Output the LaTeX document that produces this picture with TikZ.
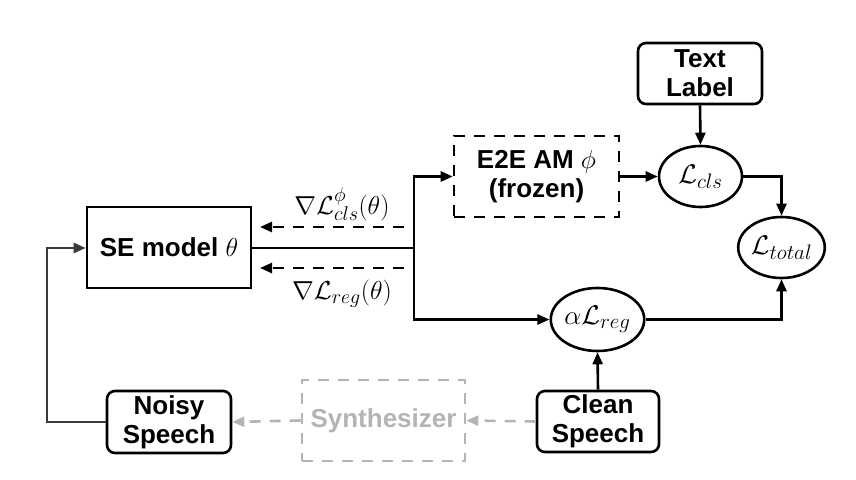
\RequirePackage{fix-cm}
\documentclass[tikz,border=0pt]{standalone}
\usepackage{fontspec}
\setsansfont{Liberation Sans}
\usetikzlibrary{shapes.geometric,arrows.meta}
\DeclareMathSizes{26}{26}{20}{15}
\DeclareMathSizes{27}{27}{21}{16}
\definecolor{darkline}{HTML}{3A3A3A}
\definecolor{lightgray}{HTML}{B4B4B4}
\tikzset{
  lw/.style={line width=2.6pt},
  tip/.style={-{Triangle[length=12pt,width=10pt]}},
  dsh/.style={dash pattern=on 11pt off 9pt},
  box/.style={draw, lw, rectangle, inner sep=0pt, align=center, font=\sffamily\bfseries\fontsize{26}{29}\selectfont},
  rbox/.style={box, rounded corners=8pt},
  dbox/.style={box, dsh},
  loss/.style={draw, lw, ellipse, inner sep=0pt, font=\fontsize{27}{30}\selectfont},
  conn/.style={lw, tip},
  grad/.style={lw, dsh, tip},
  glabel/.style={inner sep=0pt, font=\fontsize{26}{30}\selectfont},
}
\begin{document}
\begin{tikzpicture}[x=1pt,y=-1pt]
\useasboundingbox (0,0) rectangle (856,479);
\node[box, minimum width=164pt, minimum height=81pt] (se) at (169,247.5) {SE model $\theta$};
\node[dbox, minimum width=165pt, minimum height=81pt] (e2e) at (536.5,176.5) {E2E AM $\phi$\\(frozen)};
\node[rbox, minimum width=124pt, minimum height=61pt] (txt) at (700,73.5) {Text\\Label};
\node[loss, minimum width=83pt, minimum height=61pt] (lcls) at (700.5,176.5) {$\mathcal{L}_{cls}$};
\node[loss, minimum width=83pt, minimum height=61pt] (ltot) at (781.5,247.5) {$\mathcal{L}_{total}$};
\node[loss, minimum width=83pt, minimum height=63pt] (lreg) at (597.5,319.5) {$\alpha\mathcal{L}_{reg}$};
\node[rbox, minimum width=124pt, minimum height=62pt] (noisy) at (169,422) {Noisy\\Speech};
\node[dbox, draw=lightgray, text=lightgray, minimum width=163pt, minimum height=81pt] (synth) at (383.5,420.5) {Synthesizer};
\node[rbox, minimum width=122pt, minimum height=61pt] (clean) at (598,421.5) {Clean\\Speech};

\coordinate (j) at (414,248);
\coordinate (g1s) at (404,227);
\coordinate (g1e) at (260,227);
\coordinate (g2s) at (404,268);
\coordinate (g2e) at (260,268);
\node[glabel] (gl1) at (342,204) {$\nabla\mathcal{L}^{\phi}_{cls}(\theta)$};
\node[glabel] (gl2) at (342,294) {$\nabla\mathcal{L}_{reg}(\theta)$};

\draw[lw] (se.east |- j) -- (j);
\draw[conn] (j) |- (e2e.west);
\draw[conn] (j) |- (lreg.west);
\draw[grad] (g1s) -- (g1e);
\draw[grad] (g2s) -- (g2e);
\draw[conn] (e2e.east) -- (lcls.west);
\draw[conn] (txt.south) -- (lcls.north);
\draw[conn] (lcls.east) -| (ltot.north);
\draw[conn] (lreg.east) -| (ltot.south);
\draw[conn] (clean.north) -- (lreg.south);
\draw[lw, lightgray, dsh, tip] (clean.west) -- (synth.east);
\draw[lw, lightgray, dsh, tip] (synth.west) -- (noisy.east);
\coordinate (lft) at (47,248);
\draw[lw, darkline, tip] (noisy.west) -| (lft) -- (se.west |- lft);
\end{tikzpicture}
\end{document}
